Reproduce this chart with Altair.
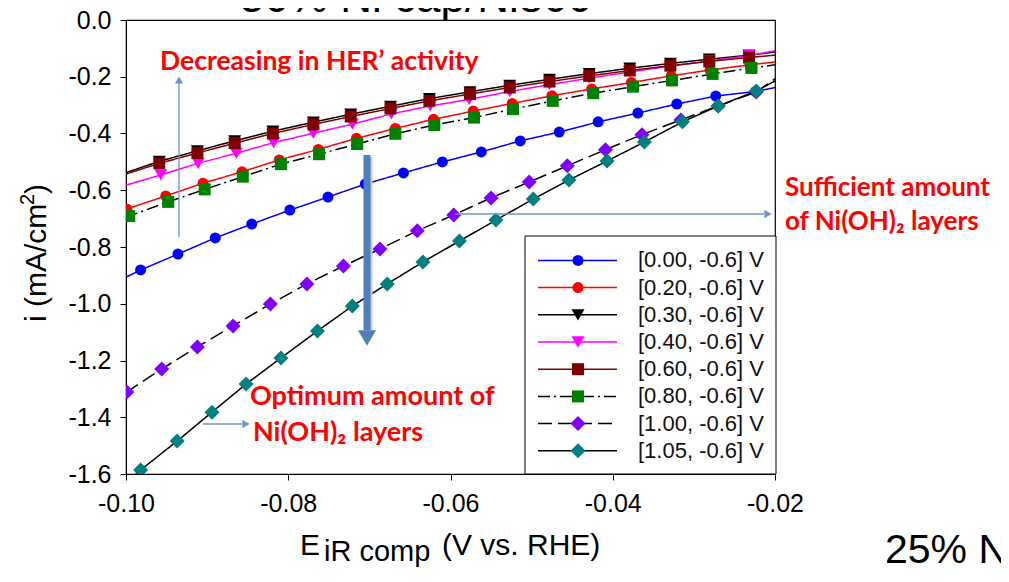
import altair as alt
import pandas as pd

# ---------------- data ----------------
labels = ["[0.00, -0.6] V", "[0.20, -0.6] V", "[0.30, -0.6] V", "[0.40, -0.6] V",
          "[0.60, -0.6] V", "[0.80, -0.6] V", "[1.00, -0.6] V", "[1.05, -0.6] V"]

x_000 = [-0.0982, -0.0936, -0.0890, -0.0845, -0.0798, -0.0751, -0.0705, -0.0658, -0.0610,
         -0.0562, -0.0514, -0.0466, -0.0418, -0.0369, -0.0321, -0.0273, -0.0224]
i_000 = [-0.881, -0.825, -0.768, -0.719, -0.670, -0.624, -0.578, -0.539, -0.500,
         -0.465, -0.426, -0.395, -0.359, -0.328, -0.296, -0.268, -0.252]

x_020 = [-0.0999, -0.0951, -0.0905, -0.0857, -0.0811, -0.0763, -0.0716, -0.0668, -0.0621,
         -0.0572, -0.0524, -0.0475, -0.0426, -0.0377, -0.0328, -0.0280, -0.0231]
i_020 = [-0.666, -0.620, -0.575, -0.535, -0.493, -0.456, -0.417, -0.382, -0.350,
         -0.321, -0.294, -0.267, -0.243, -0.220, -0.197, -0.176, -0.158]

x_030 = [-0.0959, -0.0912, -0.0866, -0.0819, -0.0769, -0.0723, -0.0674, -0.0626,
         -0.0576, -0.0527, -0.0478, -0.0429, -0.0379, -0.0329, -0.0281, -0.0232]
i_030 = [-0.498, -0.461, -0.426, -0.392, -0.360, -0.332, -0.304, -0.277,
         -0.253, -0.230, -0.209, -0.189, -0.170, -0.153, -0.138, -0.124]

x_040 = [-0.0957, -0.0911, -0.0864, -0.0818, -0.0769, -0.0721, -0.0673, -0.0625,
         -0.0577, -0.0527, -0.0478, -0.0429, -0.0379, -0.0329, -0.0281, -0.0232]
i_040 = [-0.546, -0.505, -0.470, -0.432, -0.399, -0.367, -0.331, -0.303,
         -0.280, -0.252, -0.228, -0.205, -0.183, -0.163, -0.144, -0.126]

x_060 = [-0.0959, -0.0912, -0.0866, -0.0819, -0.0769, -0.0723, -0.0674, -0.0626,
         -0.0576, -0.0527, -0.0478, -0.0429, -0.0379, -0.0329, -0.0281, -0.0232]
i_060 = [-0.505, -0.469, -0.434, -0.400, -0.368, -0.340, -0.312, -0.285,
         -0.261, -0.238, -0.217, -0.197, -0.178, -0.161, -0.146, -0.132]

x_080 = [-0.0996, -0.0948, -0.0903, -0.0856, -0.0809, -0.0762, -0.0715, -0.0668, -0.0620,
         -0.0571, -0.0523, -0.0474, -0.0424, -0.0375, -0.0327, -0.0277, -0.0229]
i_080 = [-0.691, -0.641, -0.597, -0.552, -0.508, -0.473, -0.437, -0.401, -0.370,
         -0.344, -0.314, -0.285, -0.258, -0.235, -0.213, -0.190, -0.169]

x_100 = [-0.0999, -0.0956, -0.0912, -0.0868, -0.0822, -0.0777, -0.0732, -0.0687, -0.0641,
         -0.0596, -0.0550, -0.0503, -0.0456, -0.0409, -0.0364, -0.0316, -0.0270, -0.0223]
i_100 = [-1.311, -1.230, -1.152, -1.078, -1.001, -0.930, -0.867, -0.807, -0.743,
         -0.687, -0.627, -0.571, -0.514, -0.457, -0.404, -0.352, -0.303, -0.254]

x_105 = [-0.0982, -0.0937, -0.0894, -0.0852, -0.0809, -0.0764, -0.0721, -0.0678, -0.0634,
         -0.0589, -0.0544, -0.0498, -0.0454, -0.0407, -0.0361, -0.0314, -0.0270, -0.0223]
i_105 = [-1.586, -1.484, -1.382, -1.283, -1.191, -1.096, -1.008, -0.930, -0.853,
         -0.779, -0.705, -0.631, -0.564, -0.497, -0.430, -0.359, -0.303, -0.250]

# current of each continuous curve at the left (-0.10 V) and right (-0.02 V) plot edges
edge_x = [-0.10, -0.02]
i_left = [-0.906, -0.668, -0.538, -0.582, -0.543, -0.693, -1.311, -1.630]
i_right = [-0.238, -0.148, -0.113, -0.108, -0.124, -0.158, -0.207, -0.215]

x_ticks = [-0.10, -0.08, -0.06, -0.04, -0.02]
y_ticks = [-1.6, -1.4, -1.2, -1.0, -0.8, -0.6, -0.4, -0.2, 0.0]

series_x = [x_000, x_020, x_030, x_040, x_060, x_080, x_100, x_105]
series_i = [i_000, i_020, i_030, i_040, i_060, i_080, i_100, i_105]

# ---------------- styles ----------------
line_col = ["#0000FF", "#FF0000", "#000000", "#FF00FF", "#800000", "#000000", "#000000", "#000000"]
dashes = [[1, 0], [1, 0], [1, 0], [1, 0], [1, 0], [12, 4, 2, 4], [14, 6], [1, 0]]
mark_col = ["#0000FF", "#FF0000", "#000000", "#FF00FF", "#800000", "#008000", "#8000FF", "#008080"]
shapes = ["circle", "circle", "triangle-down", "triangle-down", "square", "square", "diamond", "diamond"]
sizes = [121, 121, 169, 169, 144, 144, 225, 225]

W, H = 649, 454
AX_FONT = "Liberation Sans"
MINUS = "\u2212"

xscale = alt.Scale(domain=[-0.10, -0.02], nice=False, zero=False)
yscale = alt.Scale(domain=[-1.6, 0.0], nice=False, zero=False)
xaxis = alt.Axis(values=x_ticks, title=None, grid=False, tickSize=6, tickColor="black",
                 domainColor="black", labelFont=AX_FONT, labelFontSize=25, labelColor="black",
                 labelPadding=11, labelFlush=False,
                 labelExpr=f"replace(format(datum.value, '.2f'), '{MINUS}', '-')")
yaxis = alt.Axis(values=y_ticks, title=None, grid=False, tickSize=6, tickColor="black",
                 domainColor="black", labelFont=AX_FONT, labelFontSize=25, labelColor="black",
                 labelPadding=9, labelFlush=False,
                 labelExpr=f"replace(format(datum.value, '.1f'), '{MINUS}', '-')")

main_layers = []
for k in range(8):
    line_df = pd.DataFrame({"x": [edge_x[0]] + series_x[k] + [edge_x[1]],
                            "i": [i_left[k]] + series_i[k] + [i_right[k]]})
    pts_df = pd.DataFrame({"x": series_x[k], "i": series_i[k]})
    main_layers.append(
        alt.Chart(line_df).mark_line(clip=True, color=line_col[k], strokeWidth=1.5,
                                     strokeDash=dashes[k])
        .encode(x=alt.X("x:Q", scale=xscale, axis=xaxis),
                y=alt.Y("i:Q", scale=yscale, axis=yaxis), order=alt.Order("x:Q")))
    main_layers.append(
        alt.Chart(pts_df).mark_point(clip=True, filled=True, shape=shapes[k], size=sizes[k],
                                     color=mark_col[k], opacity=1)
        .encode(x=alt.X("x:Q", scale=xscale, axis=xaxis),
                y=alt.Y("i:Q", scale=yscale, axis=yaxis)))

one = pd.DataFrame({"a": [0]})


def txt(s, x, y, size, color="black", weight="normal", font=AX_FONT, align="left",
        baseline="alphabetic", angle=0):
    return alt.Chart(pd.DataFrame({"t": [s]})).mark_text(
        align=align, baseline=baseline, fontSize=size, color=color, fontWeight=weight,
        font=font, angle=angle).encode(x=alt.value(x), y=alt.value(y), text="t:N")


def rule(x, y, x2, y2, color, width):
    return alt.Chart(one).mark_rule(color=color, strokeWidth=width).encode(
        x=alt.value(x), y=alt.value(y), x2=alt.value(x2), y2=alt.value(y2))


def head(x, y, shape, size, color):
    return alt.Chart(one).mark_point(filled=True, shape=shape, size=size, color=color,
                                     opacity=1).encode(x=alt.value(x), y=alt.value(y))


THIN = "#6F94CD"
THICK = "#4F7FBC"
RED = "#FF0000"
RF = "Lato"
RS = 27

annot = [
    # arrows
    rule(53, 217, 53, 62, THIN, 1.3), head(53, 60, "triangle-up", 70, THIN),
    rule(329, 194, 638, 194, THIN, 1.3), head(642, 194, "triangle-right", 70, THIN),
    rule(77, 404, 116, 404, THIN, 1.3), head(120, 404, "triangle-right", 70, THIN),
    rule(243, 137, 243, 312, "#C8C8C8", 7),
    rule(241, 135, 241, 310, THICK, 7), head(241, 318, "triangle-down", 330, THICK),
    # red annotation text
    txt("Decreasing in HER\u2019 activity", 34, 42, 26.5, RED, "bold", RF, baseline="middle"),
    txt("Optimum amount of", 124, 377, RS, RED, "bold", RF, baseline="middle"),
    txt("Ni(OH)\u2082 layers", 127, 413, RS, RED, "bold", RF, baseline="middle"),
    txt("Sufficient amount", 659, 168, 26, RED, "bold", RF, baseline="middle"),
    txt("of Ni(OH)\u2082 layers", 659, 202, 26, RED, "bold", RF, baseline="middle"),
    # axis titles
    txt("E", 174, 535, 30),
    txt("iR comp", 198, 541, 29),
    txt("(V vs. RHE)", 316, 535, 30),
    txt("i (mA/cm", -80, 302, 30, angle=270),
    txt("2", -92, 185, 20, angle=270),
    txt(")", -80, 174, 30, angle=270),
    # stray slide texts
    txt("50% Ni cap/Ni800", 290, -8, 44, align="center"),
    txt("25% N", 759, 543, 41),
]

plot = alt.layer(*main_layers, *annot)

# ---------------- legend (own row scale) ----------------
leg_y = alt.Scale(domain=[0, 7], range=[240.4, 430.8])
leg_layers = [alt.Chart(one).mark_rect(fill="white", stroke="black", strokeWidth=1).encode(
    x=alt.value(399), x2=alt.value(650), y=alt.value(216), y2=alt.value(454))]
for k in range(8):
    df = pd.DataFrame({"row": [k], "label": [labels[k]]})
    yenc = alt.Y("row:Q", scale=leg_y, axis=None)
    leg_layers.append(alt.Chart(df).mark_rule(color=line_col[k], strokeWidth=1.5,
                                              strokeDash=dashes[k])
                      .encode(x=alt.value(412), x2=alt.value(491), y=yenc))
    leg_layers.append(alt.Chart(df).mark_point(filled=True, shape=shapes[k], size=sizes[k],
                                               color=mark_col[k], opacity=1)
                      .encode(x=alt.value(452), y=yenc))
    leg_layers.append(alt.Chart(df).mark_text(align="left", baseline="middle", fontSize=22,
                                              font=AX_FONT, color="#111111")
                      .encode(x=alt.value(512), y=yenc, text="label:N"))
legend = alt.layer(*leg_layers)

chart = (alt.layer(plot, legend)
         .resolve_scale(y="independent")
         .properties(width=W, height=H,
                     autosize=alt.AutoSizeParams(type="none"),
                     padding={"left": 118, "top": 12, "right": 226, "bottom": 94},
                     background="white")
         .configure_view(stroke="black", strokeWidth=1.2))

chart.save("out.html", embed_options={"renderer": "svg", "actions": False})
